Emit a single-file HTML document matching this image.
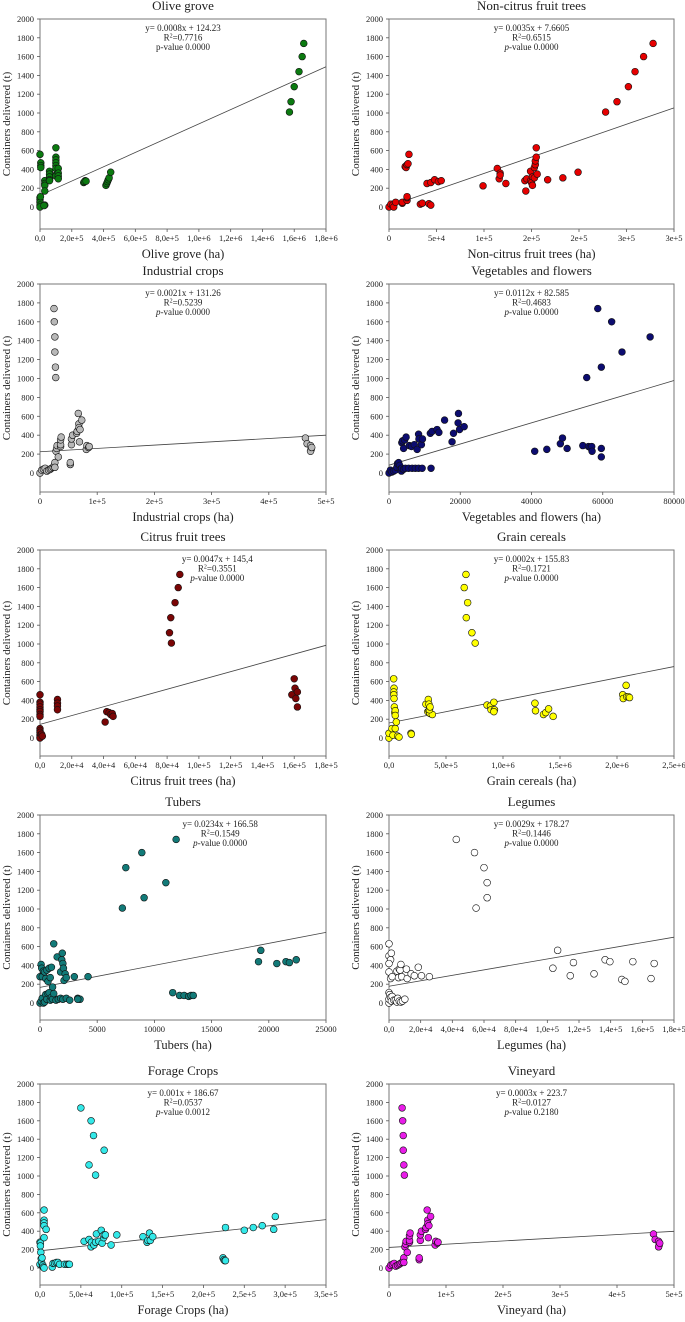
<!DOCTYPE html>
<html><head><meta charset="utf-8"><style>
html,body{margin:0;padding:0;background:#fff}
svg{display:block}
text{font-family:"Liberation Serif",serif;fill:#222}
</style></head><body>
<svg id="fig" width="685" height="1322" viewBox="0 0 685 1322"></svg>
<script>
// ---- data arrays ----
const panelTitles=["Olive grove","Non-citrus fruit trees","Industrial crops","Vegetables and flowers","Citrus fruit trees","Grain cereals","Tubers","Legumes","Forage Crops","Vineyard"];
const xMax=[1.8e6,3e5,5e5,80000,1.8e5,2.5e6,25000,1.8e5,3.5e5,5e5];
const xStep=[2e5,5e4,1e5,20000,2e4,5e5,5000,2e4,5e4,1e5];
const xTickLabels=[
["0,0","2,0e+5","4,0e+5","6,0e+5","8,0e+5","1,0e+6","1,2e+6","1,4e+6","1,6e+6","1,8e+6"],
["0","5e+4","1e+5","2e+5","2e+5","3e+5","3e+5"],
["0","1e+5","2e+5","3e+5","4e+5","5e+5"],
["0","20000","40000","60000","80000"],
["0,0","2,0e+4","4,0e+4","6,0e+4","8,0e+4","1,0e+5","1,2e+5","1,4e+5","1,6e+5","1,8e+5"],
["0,0","5,0e+5","1,0e+6","1,5e+6","2,0e+6","2,5e+6"],
["0","5000","10000","15000","20000","25000"],
["0,0","2,0e+4","4,0e+4","6,0e+4","8,0e+4","1,0e+5","1,2e+5","1,4e+5","1,6e+5","1,8e+5"],
["0,0","5,0e+4","1,0e+5","1,5e+5","2,0e+5","2,5e+5","3,0e+5","3,5e+5"],
["0","1e+5","2e+5","3e+5","4e+5","5e+5"]];
const yTicks=[0,200,400,600,800,1000,1200,1400,1600,1800,2000];
const eqText=["y= 0.0008x + 124.23","y= 0.0035x + 7.6605","y= 0.0021x + 131.26","y= 0.0112x + 82.585","y= 0.0047x + 145,4","y= 0.0002x + 155.83","y= 0.0234x + 166.58","y= 0.0029x + 178.27","y= 0.001x + 186.67","y= 0.0003x + 223.7"];
const r2Text=["0.7716","0.6515","0.5239","0.4683","0.3551","0.1721","0.1549","0.1446","0.0537","0.0127"];
const pText=["0.0000","0.0000","0.0000","0.0000","0.0000","0.0000","0.0000","0.0000","0.0012","0.2180"];
const lineSlope=[0.00076,0.00349,0.00035,0.0112,0.00467,0.00024,0.0234,0.0029,0.00097,0.00035];
const lineIntercept=[124.23,7.66,225,82.585,145.4,160,166.58,178.27,186.67,223.7];
const lineStart=[42000,0,0,0,0,0,0,0,0,0];

const x0=[0,5e3,5e3,5e3,0,0,0,0,0,3e3,3e4,3e4,3e4,3e4,3e4,2.5e4,6e4,6e4,6e4,6e4,6e4,1e5,1e5,1e5,1e5,1e5,1e5,1e5,1e5,1.15e5,1.15e5,1.15e5,1.15e5,2.75e5,2.85e5,2.8e5,2.9e5,4.15e5,4.2e5,4.25e5,4.3e5,4.35e5,4.45e5,1.57e6,1.58e6,1.6e6,1.63e6,1.65e6,1.66e6];
const y0=[560,470,440,420,100,80,50,20,0,110,280,250,230,170,20,15,380,350,320,290,280,630,530,500,470,440,410,340,330,410,360,330,300,260,280,270,275,230,250,270,290,310,370,1010,1120,1280,1440,1600,1740];
const x1=[0,2e3,4e3,5e3,7e3,1.4e4,1.4e4,1.7e4,1.8e4,1.9e4,2e4,2.1e4,1.9e4,1.9e4,1.9e4,3.3e4,3.5e4,4e4,4.2e4,4.4e4,4.4e4,4.8e4,5.2e4,5.5e4,9.9e4,1.14e5,1.17e5,1.16e5,1.17e5,1.23e5,1.43e5,1.44e5,1.45e5,1.49e5,1.49e5,1.51e5,1.5e5,1.51e5,1.53e5,1.53e5,1.54e5,1.54e5,1.55e5,1.55e5,1.56e5,1.67e5,1.83e5,1.99e5,2.28e5,2.40e5,2.52e5,2.59e5,2.68e5,2.78e5];
const y1=[0,30,20,0,50,40,50,430,420,450,460,560,70,100,110,30,40,250,35,20,260,290,270,280,225,410,360,300,340,250,280,170,300,280,380,320,260,230,420,310,450,490,530,630,350,290,310,370,1010,1120,1280,1440,1600,1740];
const x2=[0,3e3,6e3,9e3,1.2e4,1.5e4,1.8e4,2e4,2.3e4,2.5e4,2.6e4,2.6e4,2.45e4,2.5e4,2.6e4,2.6e4,2.7e4,2.75e4,2.8e4,2.9e4,3e4,3.2e4,3.6e4,3.6e4,3.6e4,3.7e4,5.3e4,5.3e4,5.5e4,5.5e4,5.7e4,6.4e4,6.5e4,6.7e4,6.8e4,6.8e4,6.9e4,7e4,7.3e4,8.1e4,8.2e4,8.5e4,8.6e4,4.64e5,4.67e5,4.73e5,4.74e5,4.73e5,4.75e5];
const y2=[0,30,40,50,20,30,40,50,60,80,110,60,1740,1600,1440,1280,1120,1010,230,260,290,170,280,300,350,380,90,110,300,360,400,420,440,630,520,480,330,460,560,250,290,270,280,370,310,290,250,230,270];
const x3=[0,400,800,1300,1800,2200,2400,2700,3000,3200,3500,3600,4100,4600,5500,6500,7400,8300,9300,11800,3600,3800,4100,4400,4800,5700,6300,7100,7900,8300,8400,9100,9400,11600,12100,13500,14000,15600,17700,18100,19400,19500,19800,21100,40900,44300,48100,48700,50000,54400,56000,56500,56900,57000,59600,59600,55500,59600,65400,73300,62500,58600];
const y3=[0,30,10,20,30,60,100,110,80,40,20,50,40,50,50,50,50,50,50,50,320,340,260,350,380,290,280,300,250,410,360,300,360,420,440,460,430,560,330,420,530,630,460,490,230,250,310,370,260,290,280,270,280,230,260,170,1010,1120,1280,1440,1600,1740];
const x4=[0,0,0,0,0,0,0,0,0,0,0,0,0,0,1000,1500,1.1e4,1.1e4,1.1e4,1.1e4,4.1e4,4.2e4,4.35e4,4.45e4,4.55e4,4.6e4,8.15e4,8.23e4,8.27e4,8.5e4,8.7e4,8.8e4,1.585e5,1.6e5,1.605e5,1.61e5,1.62e5,1.62e5];
const y4=[460,380,360,330,300,280,250,230,100,80,60,30,10,0,40,20,410,370,340,300,170,280,270,250,260,230,1120,1280,1010,1440,1600,1740,460,630,530,420,490,330];
const x5=[0,0,2.6e4,3.5e4,4.1e4,4.4e4,4.2e4,4.2e4,4.4e4,4.7e4,5e4,5.5e4,5.5e4,5.5e4,6.4e4,7.6e4,8.8e4,1.93e5,1.96e5,3.4e5,3.5e5,3.6e5,3.8e5,3.24e5,3.45e5,3.5e5,3.55e5,3.6e5,6.6e5,6.75e5,6.78e5,6.9e5,7.27e5,7.56e5,8.6e5,8.9e5,8.95e5,9.2e5,9.25e5,9.2e5,1.28e6,1.285e6,1.355e6,1.375e6,1.4e6,1.44e6,2.05e6,2.055e6,2.08e6,2.085e6,2.1e6,2.11e6];
const y5=[0,50,100,30,630,530,490,460,420,330,270,290,240,100,170,20,10,50,40,280,290,260,250,360,410,360,300,330,1600,1740,1280,1440,1120,1010,350,340,300,380,300,280,370,290,250,270,310,230,460,420,560,440,440,430];
const x6=[0,100,200,300,400,500,600,700,800,900,1000,1100,1200,1400,1600,1800,2000,2300,2600,3300,3500,3300,0,100,150,200,300,400,500,600,700,800,900,1000,1100,1200,1500,1800,1900,1950,2000,2050,2100,2200,2300,3000,4200,7200,7500,8900,9100,11000,11900,11600,12200,12600,13000,13200,13400,19100,19300,20700,21500,21800,22400];
const y6=[0,20,50,0,10,90,40,100,110,30,60,40,100,30,40,50,40,50,30,50,40,40,280,410,370,280,340,330,260,350,230,370,270,380,170,630,490,330,460,530,420,370,240,310,270,280,280,1010,1440,1600,1120,1280,1740,110,80,80,70,80,80,440,560,420,440,430,460];
const x7=[0,0,1000,0,1500,0,1000,2000,5000,6000,6500,7000,7500,8000,11000,11500,14000,16000,18500,20500,25500,0,0,0,500,1000,1500,2000,3000,4000,5000,5500,6500,7500,8500,10000,42500,54000,55000,60000,62000,62000,103500,106500,114500,116500,129500,136500,139500,147000,149000,154000,165500,167500];
const y7=[630,500,460,420,530,330,260,280,340,270,360,350,410,280,360,260,310,290,380,290,280,0,110,40,90,60,20,70,30,30,10,50,20,10,20,40,1740,1600,1010,1440,1280,1120,370,560,290,430,310,460,440,250,230,440,260,420];
const x8=[0,0,500,500,1000,1500,2000,2500,3000,3500,4000,5000,5000,5000,5000,5000,7500,5000,15000,16000,18000,20000,22000,24000,30000,33000,35000,36000,50000,60000,62500,65500,68000,78500,54000,60000,62500,63000,66000,68000,69000,72000,75000,76000,78000,78500,80000,87000,94000,126000,131000,132000,134000,135000,138000,224000,225000,226000,227000,227000,250000,261000,272000,286000,288000];
const y8=[40,280,270,240,170,100,60,110,20,30,10,630,520,490,460,330,420,0,10,50,50,60,60,40,40,40,40,40,1740,1120,1600,1440,1010,1280,290,310,230,280,250,280,370,290,410,270,330,360,360,250,360,340,280,300,380,300,340,110,90,80,80,440,410,440,460,420,560];
const x9=[0,3e3,6e3,9e3,1.2e4,1.5e4,1.8e4,2e4,2.3e4,2.5e4,2.6e4,2.6e4,2.3e4,2.4e4,2.5e4,2.5e4,2.6e4,2.7e4,2.8e4,2.9e4,3e4,3.2e4,3.6e4,3.6e4,3.6e4,3.7e4,5.3e4,5.3e4,5.5e4,5.5e4,5.7e4,6.4e4,6.5e4,6.7e4,6.8e4,6.8e4,6.9e4,7e4,7.3e4,8.1e4,8.2e4,8.5e4,8.6e4,4.64e5,4.67e5,4.73e5,4.74e5,4.73e5,4.75e5];
const y9=[0,30,40,50,20,30,40,50,60,80,110,60,1740,1600,1440,1280,1120,1010,230,260,290,170,280,300,350,380,90,110,300,360,400,420,440,630,520,480,330,460,560,250,290,270,280,370,310,290,250,230,270];
const panelX=[x0,x1,x2,x3,x4,x5,x6,x7,x8,x9];
const panelY=[y0,y1,y2,y3,y4,y5,y6,y7,y8,y9];
const fillColors=["#0b7a10","#e60000","#b8b8b8","#0c0c70","#7a0505","#ffff00","#127a78","#ffffff","#33e8e8","#e81ce8"];
const eqCenterFrac=[0.5,0.5,0.5,0.5,0.62,0.5,0.63,0.5,0.5,0.5];
const pItalic=[false,true,true,true,true,true,true,true,true,true];
</script>
<script>
const NS="http://www.w3.org/2000/svg";
const svg=document.getElementById('fig');
const rowTops=[19,284,550,815,1084];
const rowZeros=[207,473,738,1003,1268];
const rowBottoms=[229,492,756,1020,1285];
const colL=[40,389], colR=[326,674];
function mk(tag,attrs,parent){const e=document.createElementNS(NS,tag);for(const k in attrs)e.setAttribute(k,attrs[k]);(parent||svg).appendChild(e);return e;}
for(let p=0;p<10;p++){
  const row=Math.floor(p/2), col=p%2;
  const T=rowTops[row], B=rowBottoms[row], Z=rowZeros[row], L=colL[col], R=colR[col];
  const g=mk('g',{});
  
  
  const xs=v=>L+(v/xMax[p])*(R-L);
  const ys=v=>Z-(v/2000)*(Z-T);
  const frame=mk('rect',{x:L,y:T,width:R-L,height:B-T,fill:'none',stroke:'#777','stroke-width':1},g);
  
  
  const t=mk('text',{x:(L+R)/2,y:T-9,'text-anchor':'middle','font-size':13},g);t.textContent=panelTitles[p];
  
  
  yTicks.forEach(v=>{const y=ys(v);mk('line',{x1:L-3,x2:L,y1:y,y2:y,stroke:'#555','stroke-width':0.8},g);
    const tl=mk('text',{x:L-6,y:y+3,'text-anchor':'end','font-size':8.5},g);tl.textContent=v;
    
    });
  xTickLabels[p].forEach((lab,i)=>{const x=xs(i*xStep[p]);mk('line',{x1:x,x2:x,y1:B,y2:B+3,stroke:'#555','stroke-width':0.8},g);
    const tl=mk('text',{x:x,y:B+12,'text-anchor':'middle','font-size':8.5},g);tl.textContent=lab;
    
    });
  const yl=mk('text',{x:0,y:0,'text-anchor':'middle','font-size':11,transform:`translate(${L-30},${(T+B)/2}) rotate(-90)`},g);yl.textContent='Containers delivered (t)';
  
  
  const xl=mk('text',{x:(L+R)/2,y:B+29,'text-anchor':'middle','font-size':12.5},g);xl.textContent=panelTitles[p]+' (ha)';
  
  
  const xa=lineStart[p], xb=xMax[p];
  const ln=mk('line',{x1:xs(xa),y1:ys(lineSlope[p]*xa+lineIntercept[p]),x2:xs(xb),y2:ys(lineSlope[p]*xb+lineIntercept[p]),stroke:'#444','stroke-width':0.8},g);
  
  
  panelX[p].forEach((xv,i)=>{const c=mk('circle',{cx:xs(xv),cy:ys(panelY[p][i]),r:3.4,fill:fillColors[p],stroke:'#111','stroke-width':0.6},g);
    
    });
  const ex=L+(R-L)*eqCenterFrac[p];
  const e1=mk('text',{x:ex,y:T+12,'text-anchor':'middle','font-size':9},g);e1.textContent=eqText[p];
  
  
  const e2=mk('text',{x:ex,y:T+21.5,'text-anchor':'middle','font-size':9},g);
  e2.innerHTML='R<tspan dy="-3" font-size="6">2</tspan><tspan dy="3">='+r2Text[p]+'</tspan>';
  
  
  const e3=mk('text',{x:ex,y:T+31,'text-anchor':'middle','font-size':9},g);
  e3.innerHTML=(pItalic[p]?'<tspan font-style="italic">p</tspan>':'p')+'-value '+pText[p];
  
  
}
</script>
</body></html>
